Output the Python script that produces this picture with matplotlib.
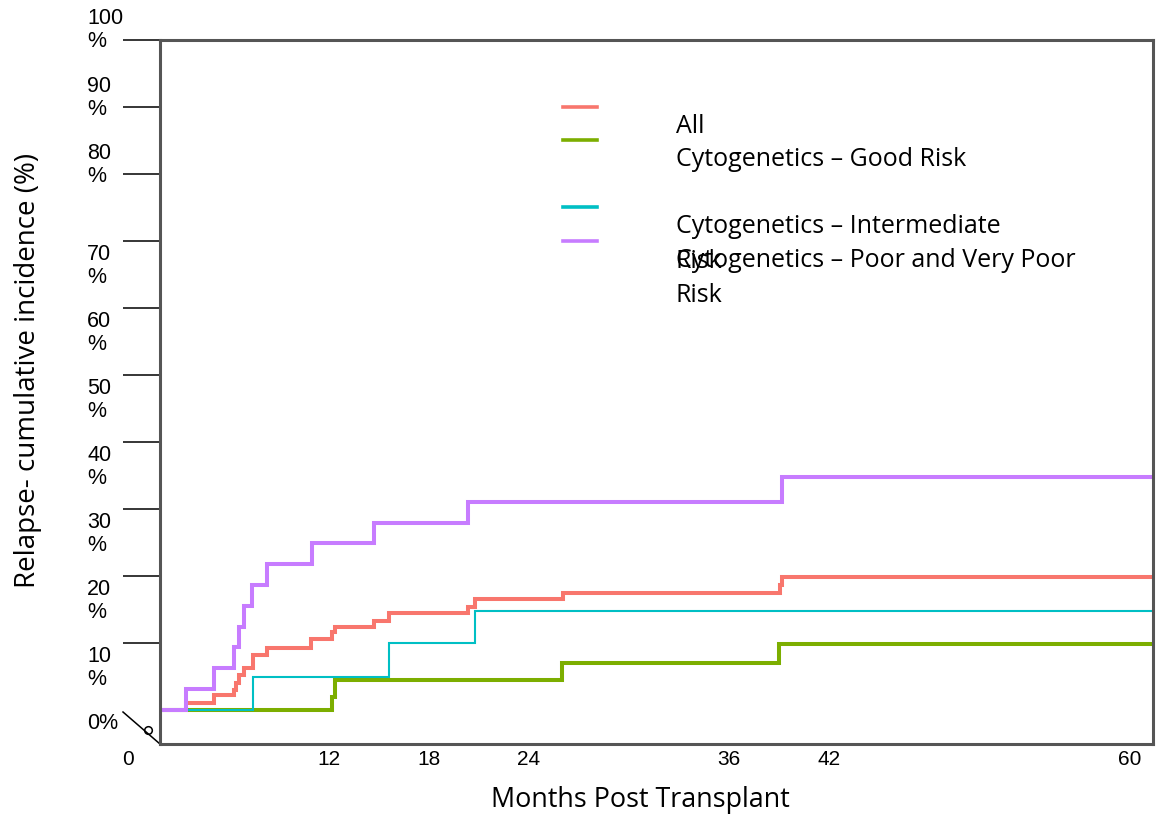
import matplotlib.pyplot as plt
from matplotlib.lines import Line2D

# months post transplant and relapse cumulative incidence (%)
all_t = [0, 3.44, 5.11, 6.31, 6.43, 6.61, 6.91, 7.45, 8.29, 10.92, 12.18, 12.36,
         14.75, 15.65, 20.38, 20.80, 26.07, 39.06, 39.18, 61.5]
all_ci = [0, 1.0, 2.2, 3.0, 4.0, 5.2, 6.3, 8.2, 9.3, 10.6, 11.6, 12.4,
          13.3, 14.5, 15.4, 16.6, 17.5, 18.7, 19.9, 19.9]

good_t = [0, 12.18, 12.36, 26.01, 39.01, 61.5]
good_ci = [0, 1.9, 4.5, 7.0, 9.8, 9.8]

inter_t = [0, 7.45, 15.65, 20.80, 61.5]
inter_ci = [0, 4.9, 10.0, 14.8, 14.8]

poor_t = [0, 3.44, 5.11, 6.31, 6.61, 6.91, 7.39, 8.29, 10.98, 14.75, 20.38, 39.18, 61.5]
poor_ci = [0, 3.1, 6.3, 9.4, 12.4, 15.5, 18.7, 21.8, 24.9, 27.9, 31.0, 34.8, 34.8]

series_names = ['All', 'Cytogenetics \u2013 Good Risk', 'Cytogenetics \u2013 Intermediate\nRisk',
                'Cytogenetics \u2013 Poor and Very Poor\nRisk']
series_colors = ['#F8766D', '#7CAE00', '#00BFC4', '#C77CFF']

x_ticks = [12, 18, 24, 36, 42, 60]
y_ticks = [10, 20, 30, 40, 50, 60, 70, 80, 90, 100]
y_labels = ['0%'] + ['%d\n%%' % v for v in y_ticks]

# figure is 1157 x 819 px
W, H = 1157, 819
fig = plt.figure(figsize=(W / 100, H / 100), dpi=100)
ax = fig.add_axes([160 / W, 1 - 744 / H, (1153 - 160) / W, (744 - 40) / H])

curves = [(all_t, all_ci), (good_t, good_ci), (inter_t, inter_ci), (poor_t, poor_ci)]
widths = [2.9, 2.9, 1.5, 2.9]
for (t, ci), c, lw in zip(curves, series_colors, widths):
    ax.plot(t, ci, drawstyle='steps-post', color=c, lw=lw, solid_joinstyle='miter')

ax.set_xlim(1.9, 61.4)
ax.set_ylim(-5.07, 100)

for s in ax.spines.values():
    s.set_color('#555555')
    s.set_linewidth(2.2)

ax.set_xticks(x_ticks)
ax.set_xticklabels([str(v) for v in x_ticks], fontfamily='Liberation Sans', fontsize=15)
ax.tick_params(axis='x', length=0, pad=4)

ax.set_yticks(y_ticks)
ax.set_yticklabels([''] * len(y_ticks))
ax.tick_params(axis='y', length=26.6, width=1.1, color='black', direction='out')

# y labels sit a bit off their ticks in the original
label_shift = [-9.4, -18, -18, -18, -18, -18, -18, -18, 6.5, 6.5, 7.2]
for v, lab, dy in zip([0] + y_ticks, y_labels, label_shift):
    ax.annotate(lab, xy=(-73 / 993, v), xycoords=ax.get_yaxis_transform(),
                xytext=(0, dy), textcoords='offset points', ha='left', va='center',
                fontsize=15.5, fontfamily='Liberation Sans', linespacing=1.1,
                annotation_clip=False)

# "0" under the axis break
ax.annotate('0', xy=(0, 0), xycoords=ax.get_xaxis_transform(), xytext=(0, -4),
            textcoords='offset points', ha='center', va='top', fontsize=15,
            fontfamily='Liberation Sans', annotation_clip=False)

# axis break mark
ax.plot([-37 / 993, 0], [32 / 704, 0], transform=ax.transAxes, color='black',
        lw=1.1, clip_on=False)
ax.plot([-12 / 993], [14 / 704], transform=ax.transAxes, marker='o', ms=5.5,
        mfc='none', mec='black', mew=1.1, clip_on=False)

ax.set_xlabel('Months Post Transplant', fontfamily='Open Sans', fontsize=19.4, va='center')
ax.xaxis.set_label_coords((640 - 160) / 993, (744 - 800) / 704)
ax.set_ylabel('Relapse- cumulative incidence (%)', fontfamily='Open Sans', fontsize=20,
              va='center')
ax.yaxis.set_label_coords((28 - 160) / 993, (744 - 370) / 704)

# hand-placed legend, text overlapping like the original
handle_y = [107, 140, 207, 241]
for y, c, name in zip(handle_y, series_colors, series_names):
    fig.add_artist(Line2D([563 / W, 597 / W], [1 - y / H, 1 - y / H], color=c, lw=2.6))
    for i, line in enumerate(name.split('\n')):
        fig.text(676 / W, 1 - (y + 26 + 35 * i) / H, line, ha='left', va='baseline',
                 fontfamily='Open Sans', fontsize=18)

fig.savefig('out.png', dpi=100)
